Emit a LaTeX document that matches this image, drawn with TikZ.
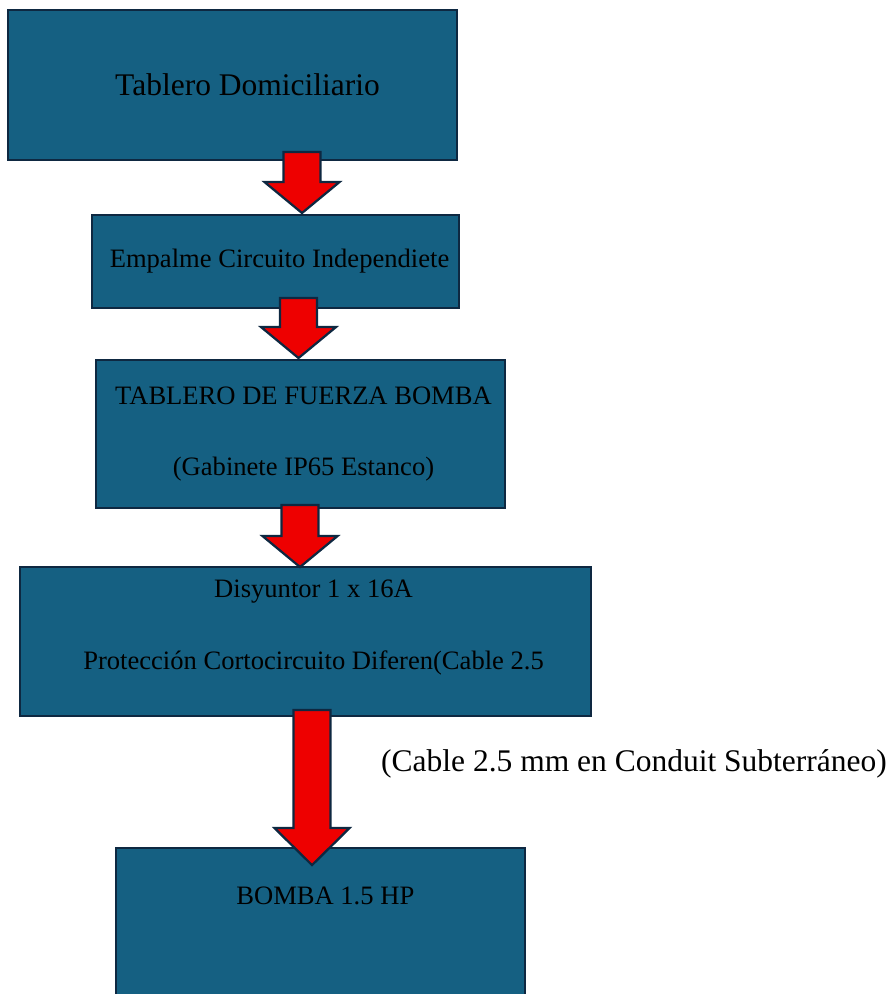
\documentclass[tikz,border=0pt]{standalone}
\usepackage{fontspec}
\setmainfont{Liberation Serif}
\usetikzlibrary{positioning, calc}

\definecolor{azulcaja}{HTML}{156082}
\definecolor{bordecaja}{HTML}{0E2841}
\definecolor{rojoflecha}{HTML}{EE0000}

% block arrow from a shaft top to a tip (optional head length)
\newcommand{\blockarrow}[3][31]{%
  \draw[flecha] ($(#2)+(-18.5,0)$) -- ($(#3)+(-18.5,-#1)$) -- ($(#3)+(-37.5,-#1)$) -- (#3)
    -- ($(#3)+(37.5,-#1)$) -- ($(#3)+(18.5,-#1)$) -- ($(#2)+(18.5,0)$) -- cycle;}

\begin{document}
\begin{tikzpicture}[x=0.025cm, y=-0.025cm]

% Define block styles
\tikzstyle{caja} = [rectangle, draw=bordecaja, line width=1.4pt, fill=azulcaja, text=black, align=center, font=\fontsize{18.9}{51}\selectfont]
\tikzstyle{texto} = [text=black, align=center, font=\fontsize{18.9}{51}\selectfont]
\tikzstyle{flecha} = [draw=bordecaja, line width=1.6pt, fill=rojoflecha, line join=miter]

\useasboundingbox (0,0) rectangle (895,994);
\clip (0,0) rectangle (895,994);

% Define nodes
\node (tablero) [caja, minimum width=11.225cm, minimum height=3.75cm, font=\fontsize{22.4}{27}\selectfont] at (232.5,85) {\hspace*{0.75cm}Tablero Domiciliario};
\node (empalme) [caja, below=1.325cm of tablero, xshift=1.075cm, minimum width=9.175cm, minimum height=2.325cm] {\hspace*{0.2cm}Empalme Circuito Independiete};
\node (fuerza) [caja, below=1.25cm of empalme, xshift=0.625cm, minimum width=10.225cm, minimum height=3.7cm] {\hspace*{0.15cm}TABLERO DE FUERZA BOMBA\\\hspace*{0.15cm}(Gabinete IP65 Estanco)};
\node (disyuntor) [caja, below=1.425cm of fuerza, xshift=0.125cm, minimum width=14.275cm, minimum height=3.725cm,
  label={[texto, anchor=center, xshift=0.2cm, yshift=-1.54cm]north:Disyuntor 1 x 16A\\Protección Cortocircuito Diferen(Cable 2.5}] {};
\node (bomba) [caja, below=3.25cm of disyuntor, xshift=0.375cm, minimum width=10.225cm, minimum height=3.75cm,
  label={[texto, anchor=center, xshift=0.12cm, yshift=-1.225cm]north:BOMBA 1.5 HP}] {};

\node (cable) [text=black, font=\fontsize{22.4}{27}\selectfont] at (634,764) {(Cable 2.5 mm en Conduit Subterráneo)};

% Arrow ends
\coordinate (a1) at ($(tablero.south)+(69.5,-9)$);
\coordinate (a1tip) at ($(a1 |- empalme.north)+(0,-1)$);
\coordinate (a2) at ($(empalme.south)+(23,-11)$);
\coordinate (a2tip) at ($(a2 |- fuerza.north)+(0,-1)$);
\coordinate (a3) at ($(fuerza.south)+(-0.5,-4)$);
\coordinate (a3tip) at ($(a3 |- disyuntor.north)+(0,1)$);
\coordinate (a4) at ($(disyuntor.south)+(6.5,-7)$);
\coordinate (a4tip) at ($(a4 |- bomba.north)+(0,18)$);

% Draw arrows
\blockarrow{a1}{a1tip}
\blockarrow{a2}{a2tip}
\blockarrow{a3}{a3tip}
\blockarrow[37]{a4}{a4tip}

\end{tikzpicture}
\end{document}
